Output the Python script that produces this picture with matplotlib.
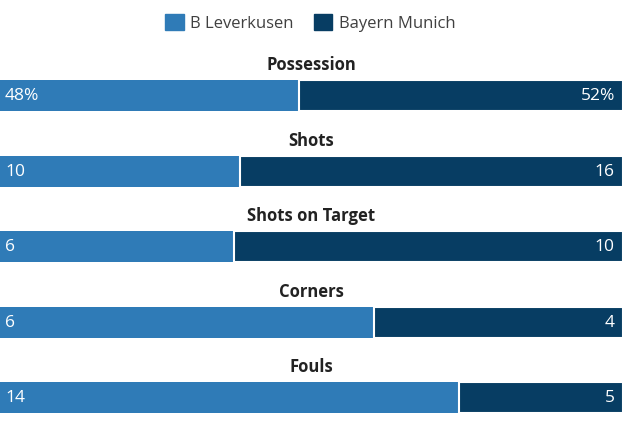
import matplotlib.pyplot as plt
from matplotlib.patches import Patch

# match stats
stats = ["Possession", "Shots", "Shots on Target", "Corners", "Fouls"]
leverkusen = [48, 10, 6, 6, 14]
bayern = [52, 16, 10, 4, 5]
left_labels = ["48%", "10", "6", "6", "14"]
right_labels = ["52%", "16", "10", "4", "5"]
teams = ["B Leverkusen", "Bayern Munich"]

c_lev = "#2f7bb7"
c_bay = "#073d63"

plt.rcParams['font.family'] = ['Open Sans', 'DejaVu Sans']

fig = plt.figure(figsize=(6.4, 4.27), dpi=100)
ax = fig.add_axes([0, 0, 623 / 640, 1])
ax.set_xlim(0, 1)
ax.set_ylim(427, 0)
ax.axis('off')

for i, name in enumerate(stats):
    yc = 96.5 + i * 75.5
    total = leverkusen[i] + bayern[i]
    frac = leverkusen[i] / total
    ax.barh(yc, frac, height=31, left=0, color=c_lev)
    ax.barh(yc, 1 - frac, height=31, left=frac, color=c_bay,
            edgecolor='white', linewidth=1.5)
    ax.text(0.5, yc - 31, name, ha='center', va='center', fontsize=12,
            fontweight='bold', color='#222222')
    ax.text(0.008, yc, left_labels[i], ha='left', va='center', fontsize=12.5,
            color='white')
    ax.text(0.987, yc, right_labels[i], ha='right', va='center', fontsize=12.5,
            color='white')

handles = [Patch(color=c_lev), Patch(color=c_bay)]
fig.legend(handles, teams, loc='center', bbox_to_anchor=(0.485, 0.945),
           ncol=2, frameon=False, fontsize=12, handlelength=1.1,
           handleheight=1.1, handletextpad=0.4, columnspacing=1.2,
           labelcolor='#404040')

fig.savefig("out.png", dpi=100, facecolor='white')
